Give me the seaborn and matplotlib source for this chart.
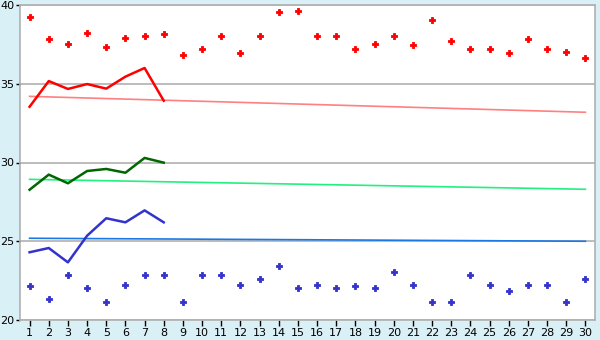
import matplotlib
matplotlib.use("Agg")
import matplotlib.pyplot as plt
import seaborn as sns
import pandas as pd
import numpy as np

days = list(range(1, 31))
line_days = list(range(1, 9))

red_points = [39.22, 37.82, 37.50, 38.20, 37.31, 37.88, 38.03, 38.14, 36.80, 37.18,
              38.01, 36.93, 38.01, 39.53, 39.60, 38.01, 38.01, 37.18, 37.50, 38.01,
              37.44, 39.03, 37.69, 37.18, 37.18, 36.93, 37.82, 37.18, 37.00, 36.61]
blue_points = [22.14, 21.31, 22.84, 22.01, 21.12, 22.20, 22.84, 22.84, 21.12, 22.84,
               22.84, 22.20, 22.58, 23.41, 22.01, 22.20, 22.01, 22.14, 22.01, 23.03,
               22.20, 21.12, 21.12, 22.84, 22.20, 21.82, 22.20, 22.20, 21.12, 22.58]

red_line = [33.54, 35.17, 34.67, 34.98, 34.69, 35.45, 36.00, 33.92]
green_line = [28.27, 29.23, 28.68, 29.46, 29.59, 29.35, 30.29, 29.99]
blue_line = [24.30, 24.57, 23.66, 25.35, 26.46, 26.20, 26.96, 26.20]

trend_days = [1, 30]
red_trend = [34.20, 33.19]
green_trend = [28.93, 28.30]
blue_trend = [25.19, 25.00]

yticks = [20, 25, 30, 35, 40]

bg = "#d9f0f7"
fig = plt.figure(figsize=(6, 3.4), dpi=100, facecolor=bg)
ax = fig.add_axes([20/600, 1-320/340, 575/600, 315/340])
ax.set_facecolor("white")

for y in yticks:
    ax.axhline(y, color="#b0b0b0", lw=1.2, zorder=0)

pts = pd.DataFrame({"day": days, "red": red_points, "blue": blue_points})
lines = pd.DataFrame({"day": line_days, "red": red_line, "green": green_line, "blue": blue_line})
trends = pd.DataFrame({"day": trend_days, "red": red_trend, "green": green_trend, "blue": blue_trend})

sns.lineplot(data=trends, x="day", y="red", color="#ff8080", lw=1.2, ax=ax)
sns.lineplot(data=trends, x="day", y="green", color="#22f080", lw=1.2, ax=ax)
sns.lineplot(data=trends, x="day", y="blue", color="#1a78e6", lw=1.2, ax=ax)

sns.lineplot(data=lines, x="day", y="red", color="#ff0000", lw=1.8, ax=ax)
sns.lineplot(data=lines, x="day", y="green", color="#006600", lw=1.8, ax=ax)
sns.lineplot(data=lines, x="day", y="blue", color="#3333cc", lw=1.8, ax=ax)

sns.scatterplot(data=pts, x="day", y="red", color="#ff0000", marker="P", s=18,
                linewidth=0.6, edgecolor="#ff0000", ax=ax)
sns.scatterplot(data=pts, x="day", y="blue", color="#3333cc", marker="P", s=18,
                linewidth=0.6, edgecolor="#3333cc", ax=ax)

ax.set_xlim(0.5, 30.5)
ax.set_ylim(20, 40)
ax.set_xticks(days)
ax.set_xticklabels([str(d) for d in days])
ax.set_yticks(yticks)
ax.set_yticklabels([str(y) for y in yticks])
ax.set_xlabel("")
ax.set_ylabel("")
ax.tick_params(axis="x", labelsize=8, colors="black", length=4, width=1, pad=2)
ax.tick_params(axis="y", labelsize=8, colors="black", length=3, width=1, pad=1)
for s in ["left", "right", "top", "bottom"]:
    ax.spines[s].set_color("#b0b0b0")
    ax.spines[s].set_linewidth(1.2)

fig.savefig("out.png", dpi=100, facecolor=bg)
